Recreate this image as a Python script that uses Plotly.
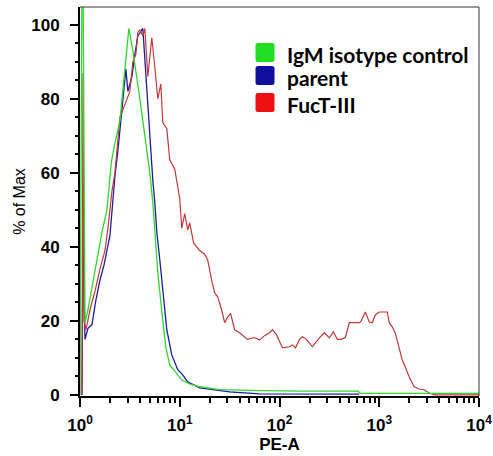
import plotly.graph_objects as go

# PE-A channel values and % of Max for each sample
igm_x = [1.0, 1.047, 1.072, 1.122, 1.202, 1.318, 1.479, 1.660, 1.862, 2.065, 2.239, 2.512, 2.818, 3.090,
         3.388, 3.715, 3.981, 4.467, 5.012, 5.370, 5.623, 6.026, 6.761, 7.244, 7.943, 8.913, 10.47,
         12.59, 15.85, 25.12, 50.12, 158.5, 616.6, 645.7, 10000]
igm_y = [0, 115, 115, 19.5, 23, 29, 36, 44, 50, 63, 68, 74, 88, 99,
         93, 86, 80, 70, 60, 52, 45, 33, 20, 13, 8, 6.5, 4,
         3, 2.2, 1.4, 1.2, 1.0, 1.0, 0.4, 0.4]

parent_x = [1.047, 1.072, 1.122, 1.202, 1.318, 1.445, 1.585, 1.738, 1.995, 2.239, 2.399, 2.692, 2.818,
            2.884, 3.020, 3.311, 3.548, 3.802, 4.266, 4.677, 5.012, 5.370, 5.623, 5.888, 6.310, 6.761,
            7.413, 8.318, 9.550, 10.72, 12.02, 15.85, 31.62, 63.10, 158.5, 631.0]
parent_y = [0, 42, 15, 18, 19, 25.7, 31, 35, 43, 59, 66, 79, 84,
            88, 82, 86, 92, 97, 99, 83, 68, 58, 52, 44, 36.5, 28,
            17.6, 10.8, 6.8, 5.4, 3.5, 1.9, 0.8, 0.3, 0.2, 0.2]

fuct_x = [1.047, 1.072, 1.096, 1.148, 1.259, 1.413, 1.585, 1.778, 1.905, 2.089, 2.239, 2.512, 2.692,
          2.884, 3.162, 3.388, 3.631, 3.802, 3.981, 4.266, 4.467, 4.786, 5.248, 5.623, 6.026, 6.457,
          6.761, 7.413, 7.943, 8.913, 10.0, 10.47, 11.22, 12.02, 12.59, 13.80, 15.85, 17.78, 19.05,
          20.89, 22.39, 23.99, 26.30, 28.18, 30.20, 32.36, 35.48, 39.81, 47.86, 56.23, 63.10, 70.79,
          79.43, 85.11, 93.33, 107.2, 125.9, 134.9, 144.5, 158.5, 169.8, 186.2, 213.8, 251.2, 281.8,
          316.2, 346.7, 380.2, 416.9, 457.1, 501.2, 562.3, 631.0, 660.7, 724.4, 794.3, 851.1, 912.0,
          1000, 1122, 1202, 1259, 1349, 1445, 1585, 1698, 1820, 1995, 2239, 2512, 2818, 3162, 3631, 10000]
fuct_y = [0, 87, 20, 17.6, 23, 28, 34, 39, 45, 55, 60, 75, 77,
          79, 82, 90, 92, 98, 98.6, 97, 99, 86, 96.5, 88.6, 80, 84,
          73.5, 72, 63.5, 61, 53, 45, 49, 44.6, 46.5, 41, 39, 38, 36.5,
          31, 27.6, 26.5, 23, 19.5, 21, 22, 17.6, 16.8, 15, 15.5, 14.8, 16,
          16.8, 17.6, 16.2, 12.7, 13, 13.5, 12.7, 15, 15.7, 15, 13, 15.4, 16.8,
          15.4, 17, 15, 15, 15.5, 19.5, 19.5, 19.5, 20, 22.4, 19.7, 19.5, 21.6,
          22.4, 22.4, 22.4, 19.5, 18.4, 16.8, 13, 9.5, 7.6, 4.9, 2.2, 1.6, 1.4, 0.5, 0, 0]

legend_labels = ["IgM isotype control", "parent", "FucT-III"]
legend_colors = ["#22dd22", "#1010a0", "#ee1111"]

x_tickvals = [1, 10, 100, 1000, 10000]
x_ticktext = ["<b>10<sup>0</sup></b>", "<b>10<sup>1</sup></b>", "<b>10<sup>2</sup></b>",
              "<b>10<sup>3</sup></b>", "<b>10<sup>4</sup></b>"]
x_minor = [m * 10 ** d for d in range(4) for m in range(2, 10)]
y_tickvals = [0, 20, 40, 60, 80, 100]
y_ticktext = ["<b>%d</b>" % v for v in y_tickvals]

fig = go.Figure()
fig.add_trace(go.Scatter(x=parent_x, y=parent_y, mode="lines",
                         line=dict(color="#1c1c9c", width=1.3), showlegend=False))
fig.add_trace(go.Scatter(x=fuct_x, y=fuct_y, mode="lines",
                         line=dict(color="#c43838", width=1.2), showlegend=False))
fig.add_trace(go.Scatter(x=igm_x, y=igm_y, mode="lines",
                         line=dict(color="#2ed82e", width=1.3), showlegend=False))

fig.update_layout(
    width=493, height=456,
    margin=dict(l=80, r=14, t=7, b=60, autoexpand=False),
    paper_bgcolor="white", plot_bgcolor="white",
    font=dict(family="Liberation Sans", color="black"),
    xaxis=dict(type="log", range=[0, 4], tickvals=x_tickvals, ticktext=x_ticktext,
               ticks="outside", ticklen=9, tickwidth=1.5, tickcolor="black",
               showline=True, linecolor="black", linewidth=2, showgrid=False, zeroline=False,
               automargin=False,
               tickfont=dict(family="Liberation Sans", size=17, color="black"),
               ticklabelstandoff=4,
               minor=dict(tickvals=x_minor, ticks="outside", ticklen=5, tickcolor="black", showgrid=False),
               title=dict(text="<b>PE-A</b>", font=dict(family="Liberation Sans", size=17, color="black"),
                          standoff=0)),
    yaxis=dict(range=[-0.3, 104.8], tickvals=y_tickvals, ticktext=y_ticktext,
               ticks="outside", ticklen=8, tickwidth=1.5, tickcolor="black",
               showline=True, linecolor="black", linewidth=2, showgrid=False, zeroline=False,
               automargin=False,
               tickfont=dict(family="Liberation Sans", size=17, color="black"),
               ticklabelstandoff=7,
               minor=dict(dtick=5, ticks="outside", ticklen=3, tickcolor="black", showgrid=False),
               title=dict(text="% of Max", font=dict(family="Liberation Sans", size=16, color="black"),
                          standoff=2)),
    showlegend=False,
)

# top/right frame
fig.add_shape(type="line", xref="paper", yref="paper", x0=0, x1=1, y0=1, y1=1,
              line=dict(color="#333333", width=1))
fig.add_shape(type="line", xref="paper", yref="paper", x0=1, x1=1, y0=0, y1=1,
              line=dict(color="#333333", width=1))

# custom legend
sq_y = [0.883, 0.824, 0.7545]
txt_y = [0.879, 0.8175, 0.750]
sq = "M -7,-9.5 L 7,-9.5 Q 9.5,-9.5 9.5,-7 L 9.5,7 Q 9.5,9.5 7,9.5 L -7,9.5 Q -9.5,9.5 -9.5,7 L -9.5,-7 Q -9.5,-9.5 -7,-9.5 Z"
for lab, col, sy, ty in zip(legend_labels, legend_colors, sq_y, txt_y):
    fig.add_shape(type="path", xref="paper", yref="paper", xsizemode="pixel", ysizemode="pixel",
                  xanchor=0.4637, yanchor=sy, path=sq, fillcolor=col, line=dict(width=0))
    fig.add_annotation(xref="paper", yref="paper", x=0.5138, y=ty, xanchor="left", yanchor="middle",
                       text="<b>%s</b>" % lab, showarrow=False,
                       font=dict(family="Lato", size=21, color="black"))

fig.write_html("out.html", config={"displayModeBar": False},
               post_script="document.body.style.margin='0';document.body.style.overflow='hidden';")
